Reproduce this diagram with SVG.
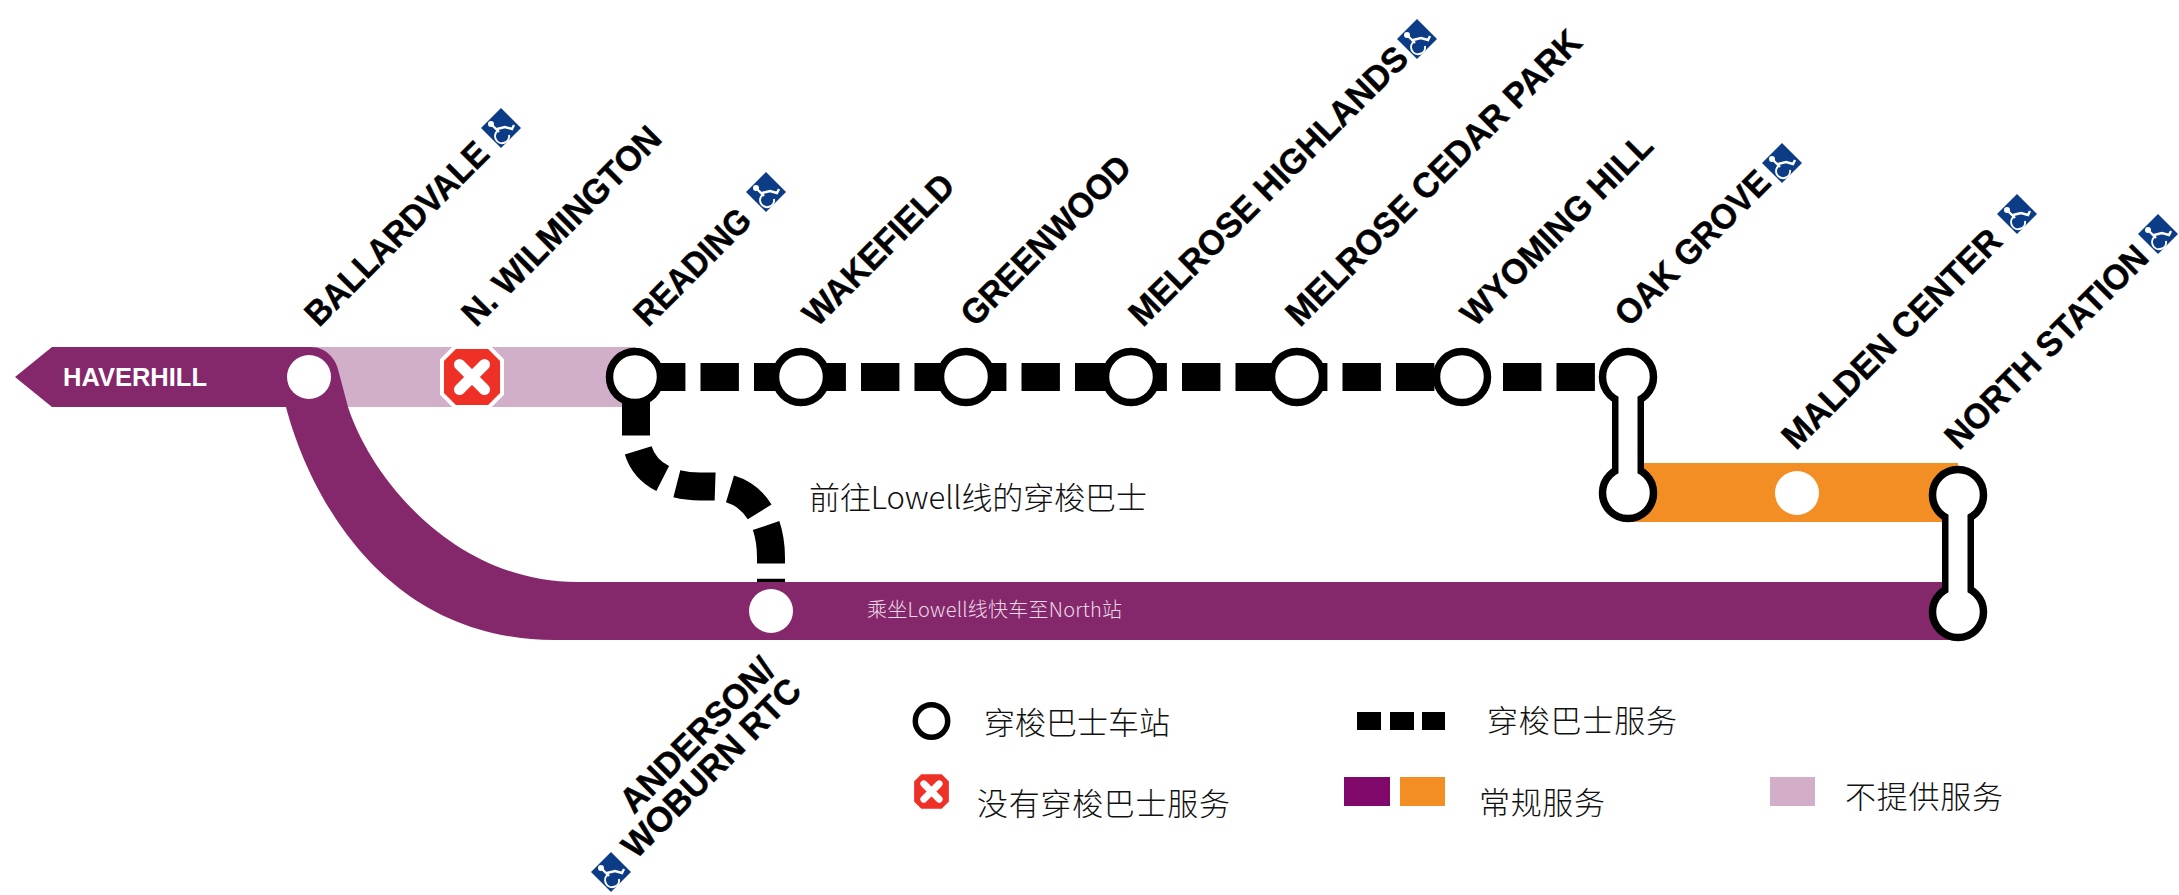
<svg xmlns="http://www.w3.org/2000/svg" width="2179" height="895" viewBox="0 0 2179 895">
<style>
.lbl{font-family:"Liberation Sans",Arial,sans-serif;font-weight:700;font-size:35px;fill:#000;stroke:#000;stroke-width:.4}
.zh{font-family:"Noto Sans CJK SC","Noto Sans",sans-serif;font-size:31px;fill:#111;font-weight:300}
.stop{fill:#fff;stroke:#000;stroke-width:7.5}
.plain{fill:#fff}
.dash{fill:none;stroke:#000;stroke-width:28;stroke-dasharray:38.4 15.1}
</style>
<defs>
<g id="access">
<path d="M0-20L20 0L0 20L-20 0Z" fill="#0c3c85"/>
<circle cx="-10" cy="-4" r="3" fill="#fff"/>
<path d="M-9-3L-2 4M-4 1L4-1L11 1L13-3" fill="none" stroke="#fff" stroke-width="2.400"/>
<path d="M-3 2.500A7 7 0 1 0 8 7" fill="none" stroke="#fff" stroke-width="2"/>
</g>
<g id="noservice">
<path d="M-17-30H17L30-17V17L17 30H-17L-30 17V-17Z" fill="#ef3026" stroke="#fff" stroke-width="4"/>
<path d="M-12.500-12.500L12.500 12.500M12.500-12.500L-12.500 12.500" stroke="#fff" stroke-width="11" stroke-linecap="round"/>
</g>
</defs>

<g id="connectors">
<rect id="closed-segment" x="310" y="347" width="325" height="60" fill="#d1afc9"/>
<path id="branch-shuttle" class="dash" d="M636 397V438C638 470 665 486.500 700 486.500H713C745 486.500 771 510 771 558V585"/>
<path id="purple-line" fill="#84286b" d="M15 377L52 347H310C326 347 336 358 339 373L348 407C372 480 455 582 577 582H1958V640H555C375 640 305 480 286 407H52Z"/>
<rect id="orange-line" x="1628" y="463" width="330" height="59" fill="#f28e23"/>
<path id="main-shuttle" class="dash" d="M647 377H1596"/>
</g>

<g id="haverhill"><text x="63" y="386" font-family="Liberation Sans" font-weight="700" font-size="25.500" fill="#fff">HAVERHILL</text></g>

<g id="ballardvale"><circle class="plain" cx="309" cy="377" r="22"/><text class="lbl" transform="translate(319 328) rotate(-45) scale(.937 1)">BALLARDVALE</text><use href="#access" x="501" y="128"/></g>
<g id="n-wilmington"><use href="#noservice" x="472" y="377"/><text class="lbl" transform="translate(476 328) rotate(-45) scale(.971 1)">N. WILMINGTON</text></g>
<g id="reading"><circle class="stop" cx="635" cy="377" r="25.500"/><text class="lbl" transform="translate(648 328) rotate(-45) scale(.925 1)">READING</text><use href="#access" x="766" y="192"/></g>
<g id="wakefield"><circle class="stop" cx="801" cy="377" r="25.500"/><text class="lbl" transform="translate(817 328) rotate(-45) scale(.96 1)">WAKEFIELD</text></g>
<g id="greenwood"><circle class="stop" cx="966" cy="377" r="25.500"/><text class="lbl" transform="translate(975 328) rotate(-45) scale(.945 1)">GREENWOOD</text></g>
<g id="melrose-highlands"><circle class="stop" cx="1131" cy="377" r="25.500"/><text class="lbl" transform="translate(1143 328) rotate(-45) scale(.968 1)">MELROSE HIGHLANDS</text><use href="#access" x="1417" y="39"/></g>
<g id="melrose-cedar-park"><circle class="stop" cx="1297" cy="377" r="25.500"/><text class="lbl" transform="translate(1300 328) rotate(-45) scale(.971 1)">MELROSE CEDAR PARK</text></g>
<g id="wyoming-hill"><circle class="stop" cx="1462" cy="377" r="25.500"/><text class="lbl" transform="translate(1475 328) rotate(-45) scale(.971 1)">WYOMING HILL</text></g>
<g id="oak-grove">
<rect x="1612" y="377" width="32" height="116"/>
<circle class="stop" cx="1628" cy="377" r="25.500"/><circle class="stop" cx="1628" cy="493" r="25.500"/>
<rect x="1618.500" y="390" width="19" height="90" fill="#fff"/>
<text class="lbl" transform="translate(1629 328) rotate(-45) scale(.95 1)">OAK GROVE</text><use href="#access" x="1782" y="163"/></g>
<g id="malden-center"><circle class="plain" cx="1797" cy="493" r="22"/><text class="lbl" transform="translate(1796 451) rotate(-45) scale(.97 1)">MALDEN CENTER</text><use href="#access" x="2017" y="214"/></g>
<g id="north-station">
<rect x="1942" y="495" width="32" height="117"/>
<circle class="stop" cx="1958" cy="495" r="25.500"/><circle class="stop" cx="1958" cy="612" r="25.500"/>
<rect x="1948.500" y="508" width="19" height="91" fill="#fff"/>
<text class="lbl" transform="translate(1959 451) rotate(-45) scale(.96 1)">NORTH STATION</text><use href="#access" x="2158" y="234"/></g>
<g id="anderson-woburn"><circle class="plain" cx="771" cy="611" r="22"/><text class="lbl" transform="translate(634 815) rotate(-45) scale(.965 1)">ANDERSON/</text><text class="lbl" transform="translate(636 860) rotate(-45) scale(.975 1)">WOBURN RTC</text><use href="#access" x="611" y="872"/></g>

<g id="notes">
<text class="zh" x="809" y="509" textLength="338">前往Lowell线的穿梭巴士</text>
<text class="zh" x="867" y="617" style="font-size:20px;fill:#ecdbe7" textLength="255">乘坐Lowell线快车至North站</text>
</g>

<g id="legend">
<circle cx="931.500" cy="721" r="16.200" fill="#fff" stroke="#000" stroke-width="5.500"/>
<text class="zh" x="984" y="734" textLength="186">穿梭巴士车站</text>
<use href="#noservice" transform="translate(931.500 791.500) scale(.62)"/>
<text class="zh" x="977" y="815" textLength="253">没有穿梭巴士服务</text>
<rect x="1357" y="712" width="24" height="18"/><rect x="1390" y="712" width="24" height="18"/><rect x="1422" y="712" width="23" height="18"/>
<text class="zh" x="1487" y="732" textLength="190">穿梭巴士服务</text>
<rect x="1344" y="777" width="46" height="29" fill="#80086b"/><rect x="1400" y="777" width="45" height="29" fill="#f28e23"/>
<text class="zh" x="1479" y="814" textLength="126">常规服务</text>
<rect x="1770" y="777" width="45" height="29" fill="#d2aec9"/>
<text class="zh" x="1845" y="808" textLength="158">不提供服务</text>
</g>
</svg>
